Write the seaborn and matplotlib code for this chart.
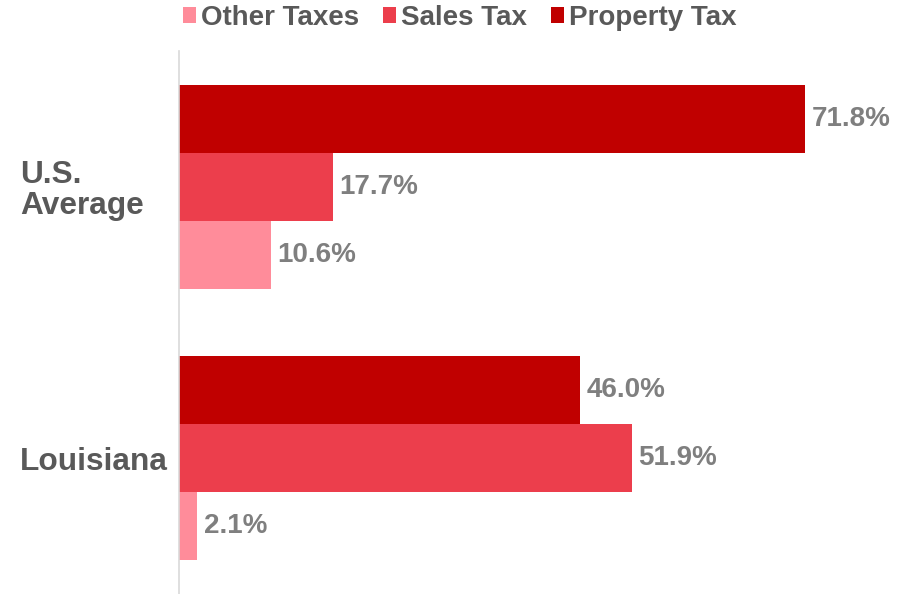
import matplotlib
matplotlib.use("Agg")
import matplotlib.pyplot as plt
from matplotlib.patches import Patch
import pandas as pd
import seaborn as sns

regions = ["U.S.\nAverage", "Louisiana"]
tax_types = ["Property Tax", "Sales Tax", "Other Taxes"]
property_tax = [71.8, 46.0]
sales_tax = [17.7, 51.9]
other_taxes = [10.6, 2.1]

colors = {"Property Tax": "#C00000", "Sales Tax": "#EC3E4C", "Other Taxes": "#FF8C9A"}
legend_order = ["Other Taxes", "Sales Tax", "Property Tax"]

rows = []
for series, vals in zip(tax_types, [property_tax, sales_tax, other_taxes]):
    for r, v in zip(regions, vals):
        rows.append({"region": r, "tax": series, "share": v})
df = pd.DataFrame(rows)

sns.set_theme(style="white")
plt.rcParams["font.family"] = ["Liberation Sans", "DejaVu Sans"]
plt.rcParams["font.weight"] = "bold"

fig = plt.figure(figsize=(9.08, 5.94), dpi=100)
ax = fig.add_axes([179 / 908, 0.0, 697.6 / 908, 1 - 51 / 594])

sns.barplot(data=df, x="share", y="region", hue="tax", order=regions,
            hue_order=tax_types, palette=colors, width=0.75, orient="h",
            saturation=1, errorbar=None, legend=False, linewidth=0, ax=ax)

for cont in ax.containers:
    ax.bar_label(cont, fmt="%.1f%%", padding=4.5, fontsize=20,
                 color="#7F7F7F", fontweight="bold")

ax.set_xlim(0, 80)
ax.set_ylim(1.5, -0.5)
ax.set_xlabel("")
ax.set_ylabel("")
ax.set_xticks([])
for s in ["top", "right", "bottom"]:
    ax.spines[s].set_visible(False)
ax.spines["left"].set_color("#D9D9D9")
ax.spines["left"].set_linewidth(1.2)

ax.tick_params(axis="y", length=0, pad=114.5)
for lab in ax.get_yticklabels():
    lab.set_horizontalalignment("left")
    lab.set_fontsize(22.8)
    lab.set_color("#595959")
    lab.set_fontweight("bold")
    lab.set_linespacing(1.05)

handles = [Patch(facecolor=colors[k], edgecolor="none", label=k) for k in legend_order]
fig.legend(handles=handles, loc="center", bbox_to_anchor=(459.5 / 908, 1 - 18 / 594),
           ncol=3, frameon=False, handlelength=0.47, handleheight=0.47,
           handletextpad=0.18, columnspacing=0.86, labelcolor="#595959",
           prop={"weight": "bold", "size": 20}, borderpad=0, borderaxespad=0)

fig.savefig("out.png", dpi=100)
